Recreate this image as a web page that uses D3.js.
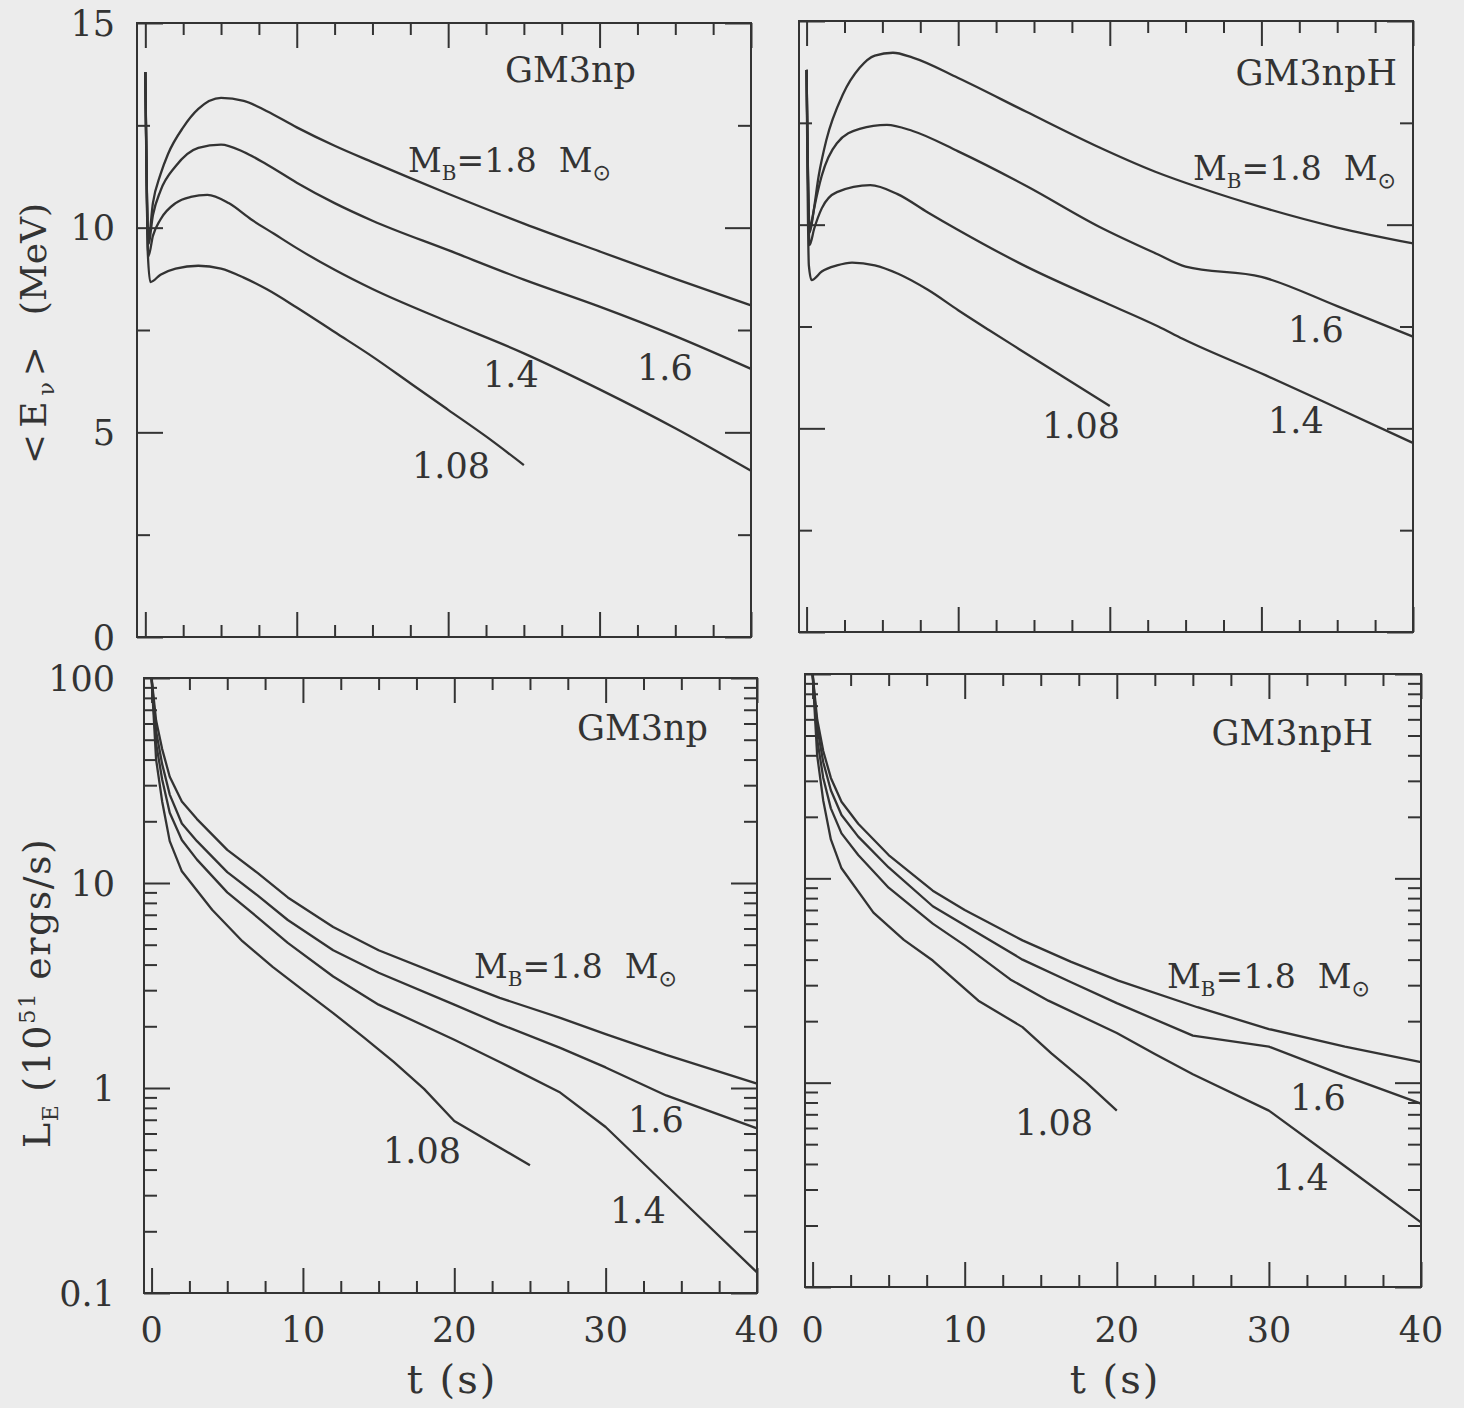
<!DOCTYPE html>
<html>
<head>
<meta charset="utf-8">
<script src="https://cdn.jsdelivr.net/npm/d3@7"></script>
<style>
  body { margin: 0; background: #ececec; }
  svg { display: block; }
  text { font-family: "DejaVu Serif", serif; fill: #333; }
</style>
</head>
<body>
<svg id="chart" width="1464" height="1408"></svg>
<script>
// --- data: mean neutrino energy <E_nu> (MeV) vs t (s) ---
const tMajor = [0, 10, 20, 30, 40];
const tMinor = [2.5, 5, 7.5, 12.5, 15, 17.5, 22.5, 25, 27.5, 32.5, 35, 37.5];
const energyMajor = [0, 5, 10, 15];
const energyMinor = [2.5, 7.5, 12.5];
const lumMajor = [0.1, 1, 10, 100];
const massNames = ["1.8", "1.6", "1.4", "1.08"];

// GM3np
const eNp18 = [[0,13.8],[0.2,9.7],[0.5,10.6],[1,11.3],[1.5,11.8],[2.5,12.45],[3.5,12.9],[5,13.17],[6.5,13.1],[8,12.85],[10,12.45],[12.5,12.0],[15,11.6],[20,10.83],[25,10.1],[30,9.42],[35,8.75],[40,8.1]];
const eNp16 = [[0,13.8],[0.2,9.6],[0.5,10.3],[1,10.9],[2,11.5],[3.5,11.95],[5,12.03],[6.5,11.85],[8,11.55],[10,11.1],[12.5,10.6],[15,10.17],[20,9.45],[25,8.73],[30,8.07],[35,7.35],[40,6.55]];
const eNp14 = [[0,13.8],[0.2,9.3],[0.5,9.8],[1,10.2],[2,10.6],[3,10.75],[4.1,10.8],[5.5,10.6],[7,10.2],[8.5,9.85],[10,9.5],[12.5,8.97],[15,8.5],[20,7.7],[25,6.93],[30,6.05],[35,5.1],[40,4.06]];
const eNp108 = [[0,13.8],[0.15,9.5],[0.33,8.67],[1,8.85],[2,9.0],[3.5,9.07],[5,9.0],[6.5,8.78],[8,8.5],[10,8.05],[12.5,7.45],[15,6.85],[17.5,6.2],[20,5.55],[22.5,4.9],[25,4.2]];
// GM3npH
const eNpH18 = [[0,13.8],[0.2,9.9],[0.4,10.2],[0.8,11.2],[1.3,12.07],[2.4,13.2],[3.5,13.85],[4.5,14.15],[5.7,14.22],[7,14.1],[10,13.6],[14.5,12.77],[19,11.95],[23,11.3],[26,10.9],[30,10.43],[35,9.93],[40,9.54]];
const eNpH16 = [[0,13.8],[0.2,9.8],[0.5,10.4],[1,11.2],[2,12.0],[3.5,12.35],[5.3,12.45],[7,12.3],[10,11.8],[14.5,10.95],[19.3,9.95],[23,9.3],[25,8.97],[30,8.72],[35,8.0],[40,7.25]];
const eNpH14 = [[0,13.8],[0.2,9.5],[0.5,9.9],[1,10.4],[2,10.8],[4.2,10.97],[6,10.75],[8,10.3],[10,9.87],[14.5,8.97],[19.3,8.15],[23.2,7.5],[24.8,7.2],[30.3,6.3],[35,5.5],[40,4.64]];
const eNpH108 = [[0,13.8],[0.15,9.0],[0.33,8.64],[1,8.85],[2,9.0],[3,9.07],[4.5,9.0],[6,8.8],[8,8.4],[10,7.9],[12,7.42],[14,6.95],[17,6.25],[20,5.55]];

// --- data: luminosity L_E (10^51 erg/s) vs t (s) ---
const lNp18 = [[0,100],[0.3,62],[0.7,45],[1.2,33],[2,25],[3,20.5],[5,14.5],[7,11.2],[9,8.5],[12,6.1],[15,4.7],[20,3.35],[23,2.75],[27,2.2],[30,1.83],[34,1.45],[40,1.05]];
const lNp16 = [[0,100],[0.3,55],[0.7,38],[1.2,27],[2,19.5],[3,16],[5,11.3],[7,8.7],[9,6.6],[12,4.7],[15,3.65],[20,2.55],[23,2.05],[27,1.57],[30,1.26],[34,0.92],[40,0.635]];
const lNp14 = [[0,100],[0.3,48],[0.7,32],[1.2,22],[2,16.2],[3,13],[5,9.0],[7,6.8],[9,5.1],[12,3.5],[15,2.55],[20,1.72],[23,1.34],[27,0.95],[30,0.645],[35,0.285],[40,0.126]];
const lNp108 = [[0,100],[0.3,40],[0.7,25],[1.2,16],[2,11.4],[4,7.4],[6,5.2],[8,3.9],[10,3.0],[12,2.32],[14,1.77],[16,1.34],[18,0.99],[20,0.69],[25,0.42]];
// GM3npH
const lNpH18 = [[0,100],[0.3,60],[0.7,42],[1.2,31],[1.9,23.7],[3,18.5],[5,13],[7.9,8.7],[10,7.0],[13.8,4.97],[17,3.9],[20.1,3.16],[25.3,2.34],[30,1.83],[35,1.5],[40,1.26]];
const lNpH16 = [[0,100],[0.3,55],[0.7,37],[1.2,27],[1.9,20.4],[3,16],[5,11.3],[7.9,7.3],[10,5.9],[13.8,4.0],[17,3.1],[20,2.45],[25,1.7],[30,1.5],[35,1.08],[40,0.79]];
const lNpH14 = [[0,100],[0.3,48],[0.7,31],[1.2,22],[1.9,16.6],[3,13],[5,9.0],[7.9,6.0],[10,4.7],[13,3.2],[15.5,2.52],[20,1.75],[22.5,1.38],[25,1.1],[30,0.73],[35,0.39],[40,0.207]];
const lNpH108 = [[0,100],[0.3,40],[0.7,24],[1.2,15.5],[1.9,11.2],[4,6.8],[6,5.0],[7.9,3.96],[10.9,2.52],[13.8,1.87],[15.7,1.39],[18,1.0],[20,0.73]];

const svg = d3.select("#chart");
const ink = "#333";
const lumMinor = [];
[0.1, 1, 10].forEach(d => d3.range(2, 10).forEach(k => lumMinor.push(d * k)));

// panel frames (pixels); the scan is slightly skewed so each box has its own edges
const panels = [
  { name: "GM3np",  log: false, series: [eNp18, eNp16, eNp14, eNp108],     left: 137, right: 751,  top: 23,  bottom: 637,  tStart: -0.55, yLabels: true,  xLabels: false },
  { name: "GM3npH", log: false, series: [eNpH18, eNpH16, eNpH14, eNpH108], left: 799, right: 1413, top: 21,  bottom: 632,  tStart: -0.5,  yLabels: false, xLabels: false },
  { name: "GM3np",  log: true,  series: [lNp18, lNp16, lNp14, lNp108],     left: 144, right: 757,  top: 678, bottom: 1293, tStart: -0.5,  yLabels: true,  xLabels: true },
  { name: "GM3npH", log: true,  series: [lNpH18, lNpH16, lNpH14, lNpH108], left: 805, right: 1421, top: 674, bottom: 1287, tStart: -0.5,  yLabels: false, xLabels: true }
];

function tickAxis(g, axis, transform) {
  g.append("g")
    .attr("transform", transform)
    .attr("color", ink)
    .call(axis)
    .call(s => s.select(".domain").remove())
    .call(s => s.selectAll("line").attr("stroke-width", 2));
}

function drawPanel(p) {
  const x = d3.scaleLinear().domain([p.tStart, 40]).range([p.left, p.right]);
  const y = p.log
    ? d3.scaleLog().domain([0.1, 100]).range([p.bottom, p.top])
    : d3.scaleLinear().domain([0, 15]).range([p.bottom, p.top]);
  const yMajor = p.log ? lumMajor : energyMajor;
  const yMinor = p.log ? lumMinor : energyMinor;
  const g = svg.append("g");

  // ticks, all pointing inward
  tickAxis(g, d3.axisBottom(x).tickValues(tMajor).tickSize(-25).tickFormat(""), `translate(0,${p.bottom})`);
  tickAxis(g, d3.axisBottom(x).tickValues(tMinor).tickSize(-12).tickFormat(""), `translate(0,${p.bottom})`);
  tickAxis(g, d3.axisTop(x).tickValues(tMajor).tickSize(-25).tickFormat(""), `translate(0,${p.top})`);
  tickAxis(g, d3.axisTop(x).tickValues(tMinor).tickSize(-12).tickFormat(""), `translate(0,${p.top})`);
  tickAxis(g, d3.axisLeft(y).tickValues(yMajor).tickSize(-26).tickFormat(""), `translate(${p.left},0)`);
  tickAxis(g, d3.axisLeft(y).tickValues(yMinor).tickSize(-13).tickFormat(""), `translate(${p.left},0)`);
  tickAxis(g, d3.axisRight(y).tickValues(yMajor).tickSize(-26).tickFormat(""), `translate(${p.right},0)`);
  tickAxis(g, d3.axisRight(y).tickValues(yMinor).tickSize(-13).tickFormat(""), `translate(${p.right},0)`);

  g.append("rect")
    .attr("x", p.left).attr("y", p.top)
    .attr("width", p.right - p.left).attr("height", p.bottom - p.top)
    .attr("fill", "none").attr("stroke", ink).attr("stroke-width", 2);

  const line = d3.line()
    .x(d => x(d[0]))
    .y(d => y(d[1]))
    .curve(p.log ? d3.curveLinear : d3.curveMonotoneX);

  g.selectAll(".curve")
    .data(p.series)
    .join("path")
      .attr("class", "curve")
      .attr("fill", "none")
      .attr("stroke", ink)
      .attr("stroke-width", 2.3)
      .attr("stroke-linejoin", "round")
      .attr("d", line);

  if (p.yLabels) {
    g.selectAll(".ylab")
      .data(yMajor)
      .join("text")
        .attr("class", "ylab")
        .attr("x", 115)
        .attr("y", d => y(d))
        .attr("dy", "0.36em")
        .attr("text-anchor", "end")
        .style("font-size", "35px")
        .text(d => p.log ? d3.format("~g")(d) : d);
  }
  if (p.xLabels) {
    g.selectAll(".xlab")
      .data(tMajor)
      .join("text")
        .attr("class", "xlab")
        .attr("x", d => x(d))
        .attr("y", 1342)
        .attr("text-anchor", "middle")
        .style("font-size", "35px")
        .text(d => d);
  }
}

panels.forEach(drawPanel);

// --- annotations ---
function massLabel(x0, y0) {
  const t = svg.append("text").attr("x", x0).attr("y", y0).style("font-size", "33px");
  t.append("tspan").text("M");
  t.append("tspan").attr("dy", 8).style("font-size", "20px").text("B");
  t.append("tspan").attr("dy", -8).text("=1.8");
  t.append("tspan").attr("dx", 22).text("M");
  t.append("tspan").attr("dy", 8).style("font-size", "22px").style("font-family", "DejaVu Sans").text("\u2299");
}
function plain(x0, y0, s, anchor) {
  return svg.append("text").attr("x", x0).attr("y", y0)
    .attr("text-anchor", anchor || "start")
    .style("font-size", "35px").text(s);
}

// top-left
plain(636, 82, "GM3np", "end");
massLabel(408, 172);
plain(483, 387, massNames[2]);
plain(637, 380, massNames[1]);
plain(412, 478, massNames[3]);
// top-right
plain(1397, 85, "GM3npH", "end");
massLabel(1193, 180);
plain(1288, 342, massNames[1]);
plain(1268, 433, massNames[2]);
plain(1042, 438, massNames[3]);
// bottom-left
plain(708, 740, "GM3np", "end");
massLabel(474, 978);
plain(383, 1163, massNames[3]);
plain(628, 1132, massNames[1]);
plain(610, 1223, massNames[2]);
// bottom-right
plain(1373, 745, "GM3npH", "end");
massLabel(1167, 988);
plain(1015, 1135, massNames[3]);
plain(1290, 1110, massNames[1]);
plain(1273, 1190, massNames[2]);

// axis titles
svg.append("text")
  .attr("transform", "translate(46,259) rotate(-90)")
  .attr("text-anchor", "middle")
  .style("font-size", "36px")
  .text("(MeV)");

const eTitle = svg.append("text")
  .attr("transform", "translate(46,402) rotate(-90)")
  .attr("text-anchor", "middle")
  .style("font-size", "36px")
  .style("letter-spacing", "6px");
eTitle.append("tspan").text("<E");
eTitle.append("tspan").attr("dy", 8).style("font-size", "22px").text("\u03bd");
eTitle.append("tspan").attr("dy", -8).text(">");

const lTitle = svg.append("text")
  .attr("transform", "translate(50,1148) rotate(-90)")
  .style("font-size", "38px")
  .style("letter-spacing", "1.5px");
lTitle.append("tspan").text("L");
lTitle.append("tspan").attr("dy", 8).style("font-size", "22px").text("E");
lTitle.append("tspan").attr("dy", -8).attr("dx", 12).text("(10");
lTitle.append("tspan").attr("dy", -15).style("font-size", "23px").text("51");
lTitle.append("tspan").attr("dy", 15).attr("dx", 12).text("ergs/s)");

plain(452, 1393, "t (s)", "middle").style("font-size", "40px").style("letter-spacing", "2px");
plain(1115, 1393, "t (s)", "middle").style("font-size", "40px").style("letter-spacing", "2px");
</script>
</body>
</html>
